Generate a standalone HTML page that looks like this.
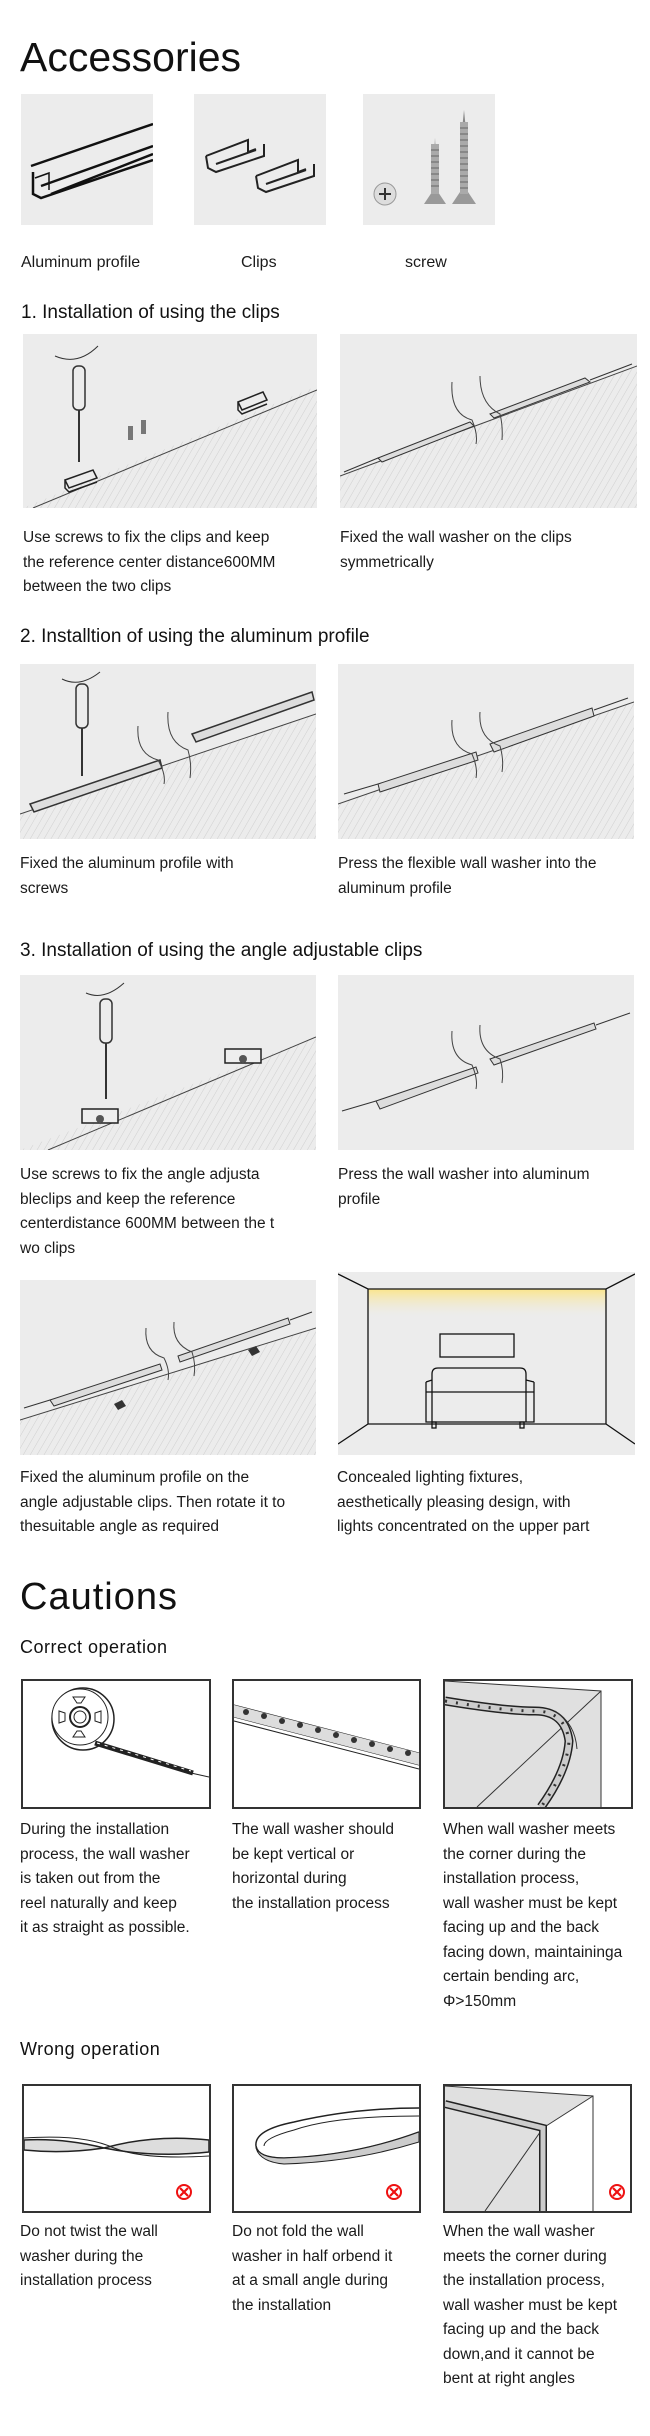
<!DOCTYPE html>
<html><head><meta charset="utf-8">
<style>
*{margin:0;padding:0;box-sizing:border-box}
body{width:650px;height:2436px;background:#fff;position:relative;font-family:"Liberation Sans",sans-serif;color:#111;overflow:hidden}
.a{position:absolute}
.t{position:absolute;font-size:15.5px;line-height:24.5px;color:#1a1a1a;white-space:nowrap}
.h{position:absolute;font-size:19px;color:#111;white-space:nowrap}
.g{position:absolute;background:#ececec}
.b{position:absolute;border:2px solid #333;background:#fff;overflow:hidden}
svg{display:block}
</style></head><body>

<div class="a" style="left:20px;top:34px;font-size:41px;">Accessories</div>

<div class="g" style="left:21px;top:94px;width:132px;height:131px">
<svg width="132" height="131"><g fill="none" stroke="#111" stroke-width="2.5"><path d="M10 72 L132 30 M12 78 L12 100 L20 104 L132 66 M20 92 L132 52 M30 100 L132 60"/><path d="M14 84 L28 79 L28 96" stroke-width="1.5"/></g></svg></div>
<div class="g" style="left:194px;top:94px;width:132px;height:131px">
<svg width="132" height="131"><g fill="none" stroke="#222" stroke-width="2"><path d="M12 62 L54 46 L54 58 L62 55 M12 62 L14 74 L22 78 L70 62 L70 50 M22 70 L62 56"/><path d="M62 82 L104 66 L104 78 L112 75 M62 82 L64 94 L72 98 L120 82 L120 70 M72 90 L112 76"/></g></svg></div>
<div class="g" style="left:363px;top:94px;width:132px;height:131px">
<svg width="132" height="131"><circle cx="22" cy="100" r="11" fill="#ddd" stroke="#999"/><path d="M16 100h12M22 94v12" stroke="#333" stroke-width="2"/><path d="M70 80 L72 44 L74 80 Z" fill="#888"/><path d="M61 110 L83 110 L75 98 L69 98 Z" fill="#999"/><rect x="68" y="50" width="8" height="50" fill="#aaa"/><path d="M99 36 L101 16 L103 36 Z" fill="#888"/><path d="M89 110 L113 110 L105 98 L97 98 Z" fill="#999"/><rect x="97" y="28" width="8" height="72" fill="#aaa"/><g stroke="#666" stroke-width="1"><path d="M68 56h8M68 62h8M68 68h8M68 74h8M68 80h8M68 86h8M68 92h8M97 34h8M97 40h8M97 46h8M97 52h8M97 58h8M97 64h8M97 70h8M97 76h8M97 82h8M97 88h8M97 94h8"/></g></svg></div>

<div class="t" style="left:21px;top:251px;font-size:16px">Aluminum profile</div>
<div class="t" style="left:241px;top:251px;font-size:16px">Clips</div>
<div class="t" style="left:405px;top:251px;font-size:16px">screw</div>

<div class="h" style="left:21px;top:302px">1. Installation of using the clips</div>

<!-- slope panels -->
<svg width="0" height="0" style="position:absolute"><defs><pattern id="hp" width="6" height="6" patternUnits="userSpaceOnUse" patternTransform="rotate(30)"><line x1="0" y1="0" x2="0" y2="6" stroke="#cfcfcf" stroke-width="1"/></pattern></defs></svg>

<div class="g" style="left:23px;top:334px;width:294px;height:174px">
<svg width="294" height="174"><polygon points="0,174 294,52 294,174" fill="url(#hp)"/><line x1="10" y1="174" x2="294" y2="56" stroke="#444"/>
<rect x="50" y="32" width="12" height="44" rx="5" fill="none" stroke="#333" stroke-width="1.5"/><line x1="56" y1="76" x2="56" y2="128" stroke="#333" stroke-width="2"/><path d="M32 22 Q55 32 75 12" fill="none" stroke="#333"/>
<path d="M42 146 L70 136 L74 144 L46 154 Z M42 146 L42 154 L46 158 L74 148" fill="none" stroke="#222" stroke-width="1.5"/>
<path d="M215 68 L240 58 L244 66 L219 76 Z M215 68 L215 76 L219 80 L244 70" fill="none" stroke="#222" stroke-width="1.5"/>
<rect x="105" y="92" width="5" height="14" fill="#777"/><rect x="118" y="86" width="5" height="14" fill="#777"/></svg></div>

<div class="g" style="left:340px;top:334px;width:297px;height:174px">
<svg width="297" height="174"><polygon points="0,174 0,142 297,32 297,174" fill="url(#hp)"/><line x1="0" y1="142" x2="297" y2="32" stroke="#444"/>
<path d="M4 138 L38 124" stroke="#333"/><path d="M38 124 L130 88 L134 92 L42 128 Z" fill="#ddd" stroke="#333"/>
<path d="M150 80 L245 44 L250 48 L154 84 Z" fill="#ddd" stroke="#333"/><path d="M250 46 L292 30" stroke="#333"/>
<path d="M112 48 Q110 80 132 86 Q138 100 136 110 M140 42 Q140 70 160 80 Q163 92 162 106" fill="none" stroke="#444"/></svg></div>

<div class="t" style="left:23px;top:526px">Use screws to fix the clips and keep<br>the reference center distance600MM<br>between the two clips</div>
<div class="t" style="left:340px;top:526px">Fixed the wall washer on the clips<br>symmetrically</div>

<div class="h" style="left:20px;top:626px">2. Installtion of using the aluminum profile</div>

<div class="g" style="left:20px;top:664px;width:296px;height:175px">
<svg width="296" height="175"><polygon points="0,175 0,150 296,50 296,175" fill="url(#hp)"/><line x1="0" y1="150" x2="296" y2="50" stroke="#444"/>
<path d="M10 140 L140 96 L142 104 L14 148 Z" fill="#ddd" stroke="#333" stroke-width="1.5"/><path d="M172 70 L292 28 L294 36 L176 78 Z" fill="#ddd" stroke="#333" stroke-width="1.5"/>
<rect x="56" y="20" width="12" height="44" rx="5" fill="none" stroke="#333" stroke-width="1.5"/><line x1="62" y1="64" x2="62" y2="112" stroke="#333" stroke-width="2"/><path d="M42 15 Q60 24 80 8" fill="none" stroke="#333"/>
<path d="M118 62 Q116 90 138 96 Q146 110 144 120 M148 48 Q146 78 168 86 Q172 100 170 114" fill="none" stroke="#444"/></svg></div>

<div class="g" style="left:338px;top:664px;width:296px;height:175px">
<svg width="296" height="175"><polygon points="0,175 0,140 296,38 296,175" fill="url(#hp)"/><line x1="0" y1="140" x2="296" y2="38" stroke="#444"/>
<path d="M6 130 L40 120" stroke="#333"/><path d="M40 120 L138 88 L140 96 L42 128 Z" fill="#ddd" stroke="#333"/><path d="M152 80 L254 44 L256 52 L156 88 Z" fill="#ddd" stroke="#333"/><path d="M256 46 L290 34" stroke="#333"/>
<path d="M114 56 Q112 84 134 90 Q140 104 138 114 M142 48 Q140 74 162 82 Q166 96 164 108" fill="none" stroke="#444"/></svg></div>

<div class="t" style="left:20px;top:852px">Fixed the aluminum profile with<br>screws</div>
<div class="t" style="left:338px;top:852px">Press the flexible wall washer into the<br>aluminum profile</div>

<div class="h" style="left:20px;top:940px">3. Installation of using the angle adjustable clips</div>

<div class="g" style="left:20px;top:975px;width:296px;height:175px">
<svg width="296" height="175"><polygon points="0,175 296,62 296,175" fill="url(#hp)"/><line x1="28" y1="175" x2="296" y2="62" stroke="#444"/>
<rect x="80" y="24" width="12" height="44" rx="5" fill="none" stroke="#333" stroke-width="1.5"/><line x1="86" y1="68" x2="86" y2="124" stroke="#333" stroke-width="2"/><path d="M66 18 Q84 26 104 8" fill="none" stroke="#333"/>
<rect x="62" y="134" width="36" height="14" fill="#eee" stroke="#222" stroke-width="1.5"/><circle cx="80" cy="144" r="4" fill="#555"/>
<rect x="205" y="74" width="36" height="14" fill="#eee" stroke="#222" stroke-width="1.5"/><circle cx="223" cy="84" r="4" fill="#555"/></svg></div>

<div class="g" style="left:338px;top:975px;width:296px;height:175px">
<svg width="296" height="175"><path d="M4 136 L38 126" stroke="#333"/><path d="M38 126 L138 92 L140 98 L42 134 Z" fill="#ddd" stroke="#333"/><path d="M152 84 L256 48 L258 54 L156 90 Z" fill="#ddd" stroke="#333"/><path d="M258 50 L292 38" stroke="#333"/>
<path d="M114 56 Q112 84 134 90 Q140 104 138 114 M142 50 Q140 76 162 84 Q166 96 164 108" fill="none" stroke="#444"/></svg></div>

<div class="t" style="left:20px;top:1163px">Use screws to fix the angle adjusta<br>bleclips and keep the reference<br>centerdistance 600MM between the t<br>wo clips</div>
<div class="t" style="left:338px;top:1163px">Press the wall washer into aluminum<br>profile</div>

<div class="g" style="left:20px;top:1280px;width:296px;height:175px">
<svg width="296" height="175"><polygon points="0,175 0,140 296,48 296,175" fill="url(#hp)"/><line x1="0" y1="140" x2="296" y2="48" stroke="#444"/>
<path d="M4 128 L30 120" stroke="#333"/><path d="M30 120 L140 84 L142 90 L34 126 Z" fill="#ddd" stroke="#333"/><path d="M158 76 L268 38 L270 44 L160 82 Z" fill="#ddd" stroke="#333"/><path d="M270 40 L292 32" stroke="#333"/>
<path d="M94 124 l8 -4 l4 6 l-8 4z M228 70 l8 -4 l4 6 l-8 4z" fill="#333"/>
<path d="M126 48 Q124 72 144 78 Q150 90 148 100 M154 42 Q152 64 172 72 Q176 84 174 96" fill="none" stroke="#444"/></svg></div>

<div class="g" style="left:338px;top:1272px;width:297px;height:183px">
<svg width="297" height="183"><defs><linearGradient id="lg" x1="0" y1="0" x2="0" y2="1"><stop offset="0" stop-color="#fbe58a"/><stop offset="1" stop-color="#ececec" stop-opacity="0"/></linearGradient></defs>
<rect x="30" y="17" width="238" height="30" fill="url(#lg)"/>
<g fill="none" stroke="#111" stroke-width="1.3"><path d="M0 2 L30 17 L268 17 L297 2 M30 17 L30 152 L268 152 L268 17 M0 172 L30 152 M268 152 L297 172"/><rect x="102" y="62" width="74" height="23"/><path d="M94 102 Q94 96 100 96 L182 96 Q188 96 188 102 L188 150 M94 102 L94 150 M88 110 L94 108 M188 108 L196 110 M88 110 L88 150 L196 150 L196 110 M88 120 L196 120"/><rect x="94" y="150" width="4" height="6"/><rect x="182" y="150" width="4" height="6"/></g></svg></div>

<div class="t" style="left:20px;top:1466px">Fixed the aluminum profile on the<br>angle adjustable clips. Then rotate it to<br>thesuitable angle as required</div>
<div class="t" style="left:337px;top:1466px">Concealed lighting fixtures,<br>aesthetically pleasing design, with<br>lights concentrated on the upper part</div>

<div class="a" style="left:20px;top:1576px;font-size:38px;letter-spacing:1px">Cautions</div>
<div class="h" style="left:20px;top:1637px;font-size:18px;letter-spacing:0.5px">Correct operation</div>

<div class="b" style="left:21px;top:1679px;width:190px;height:130px">
<svg width="186" height="126"><circle cx="60" cy="38" r="31" fill="#fff" stroke="#222" stroke-width="1.5"/><circle cx="57" cy="36" r="28" fill="#fff" stroke="#222"/><circle cx="57" cy="36" r="10" fill="none" stroke="#222" stroke-width="2"/><circle cx="57" cy="36" r="6" fill="none" stroke="#222"/><path d="M50 16 h12 l-4 6 h-4z M50 56 h12 l-4 -6 h-4z M36 30 v12 l6 -2 v-8z M78 30 v12 l-6 -2 v-8z" fill="none" stroke="#222"/><path d="M72 62 L170 92" stroke="#222" stroke-width="5"/><path d="M74 62 L168 90" stroke="#fff" stroke-width="1" stroke-dasharray="3 5"/><line x1="168" y1="92" x2="186" y2="96" stroke="#222"/></svg></div>

<div class="b" style="left:232px;top:1679px;width:189px;height:130px">
<svg width="185" height="126"><path d="M0 24 L185 72 M0 36 L185 84 M0 40 L185 88" stroke="#222" fill="none"/><path d="M0 24 L185 72 L185 84 L0 36Z" fill="#ddd"/><g fill="#333"><circle cx="12" cy="31" r="3"/><circle cx="30" cy="35" r="3"/><circle cx="48" cy="40" r="3"/><circle cx="66" cy="44" r="3"/><circle cx="84" cy="49" r="3"/><circle cx="102" cy="54" r="3"/><circle cx="120" cy="59" r="3"/><circle cx="138" cy="63" r="3"/><circle cx="156" cy="68" r="3"/><circle cx="174" cy="72" r="3"/></g></svg></div>

<div class="b" style="left:443px;top:1679px;width:190px;height:130px">
<svg width="186" height="126"><polygon points="0,0 156,10 156,126 0,126" fill="#e0e0e0"/><polygon points="156,10 186,10 186,126 156,126" fill="#fff"/><path d="M0 0 L156 10 L156 126 M156 10 L32 126" stroke="#333" fill="none"/><path d="M0 20 Q60 30 90 30 Q120 30 124 60 Q122 90 96 126" fill="none" stroke="#222" stroke-width="9"/><path d="M0 20 Q60 30 90 30 Q120 30 124 60 Q122 90 96 126" fill="none" stroke="#ccc" stroke-width="6"/><path d="M0 20 Q60 30 90 30 Q120 30 124 60 Q122 90 96 126" fill="none" stroke="#333" stroke-width="3" stroke-dasharray="2 9"/><path d="M110 30 Q130 42 132 68" fill="none" stroke="#333"/></svg></div>

<div class="t" style="left:20px;top:1818px">During the installation<br>process, the wall washer<br>is taken out from the<br>reel naturally and keep<br>it as straight as possible.</div>
<div class="t" style="left:232px;top:1818px">The wall washer should<br>be kept vertical or<br>horizontal during<br>the installation process</div>
<div class="t" style="left:443px;top:1818px">When wall washer meets<br>the corner during the<br>installation process,<br>wall washer must be kept<br>facing up and the back<br>facing down, maintaininga<br>certain bending arc,<br>Φ&gt;150mm</div>

<div class="h" style="left:20px;top:2039px;font-size:18px;letter-spacing:0.5px">Wrong operation</div>

<div class="b" style="left:22px;top:2084px;width:189px;height:129px">
<svg width="185" height="125"><path d="M0 54 Q40 52 80 62 Q130 48 185 54 L185 66 Q130 72 80 62 Q40 68 0 64Z" fill="#ddd" stroke="#222" stroke-width="1.5"/><path d="M0 52 Q60 48 90 62 Q120 74 185 70" fill="none" stroke="#222"/><circle cx="160" cy="106" r="7" fill="#fff" stroke="#e11" stroke-width="2"/><path d="M156 102l8 8M164 102l-8 8" stroke="#e11" stroke-width="2.2"/></svg></div>

<div class="b" style="left:232px;top:2084px;width:189px;height:129px">
<svg width="185" height="125"><path d="M185 22 Q120 22 60 36 Q20 44 22 60 Q24 72 50 72 Q120 70 185 46" fill="none" stroke="#222" stroke-width="1.5"/><path d="M185 30 Q100 30 60 44 Q30 52 30 60" fill="none" stroke="#222"/><path d="M22 62 Q26 76 50 78 Q120 76 185 56 L185 46 Q120 70 50 72 Q24 72 22 60Z" fill="#ccc" stroke="#222"/><circle cx="160" cy="106" r="7" fill="#fff" stroke="#e11" stroke-width="2"/><path d="M156 102l8 8M164 102l-8 8" stroke="#e11" stroke-width="2.2"/></svg></div>

<div class="b" style="left:443px;top:2084px;width:189px;height:129px">
<svg width="185" height="125"><polygon points="0,0 148,10 148,125 0,125" fill="#e0e0e0"/><polygon points="98,42 148,10 148,125 98,125" fill="#fff"/><path d="M0 0 L148 10 L148 125 M148 10 L98 42 M98 42 L40 125" stroke="#333" fill="none"/><path d="M0 18 L98 42 L98 125" fill="none" stroke="#222" stroke-width="8"/><path d="M0 18 L98 42 L98 125" fill="none" stroke="#ccc" stroke-width="5"/><circle cx="172" cy="106" r="7" fill="#fff" stroke="#e11" stroke-width="2"/><path d="M168 102l8 8M176 102l-8 8" stroke="#e11" stroke-width="2.2"/></svg></div>

<div class="t" style="left:20px;top:2220px">Do not twist the wall<br>washer during the<br>installation process</div>
<div class="t" style="left:232px;top:2220px">Do not fold the wall<br>washer in half orbend it<br>at a small angle during<br>the installation</div>
<div class="t" style="left:443px;top:2220px">When the wall washer<br>meets the corner during<br>the installation process,<br>wall washer must be kept<br>facing up and the back<br>down,and it cannot be<br>bent at right angles</div>

</body></html>
